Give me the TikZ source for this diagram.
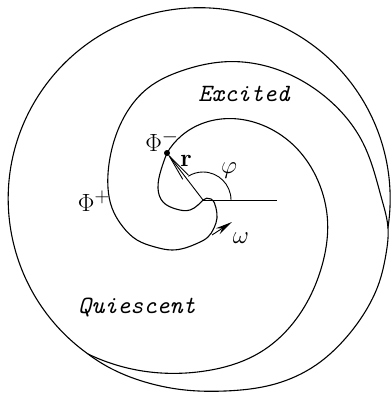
\documentclass[tikz,border=0pt]{standalone}
\usetikzlibrary{arrows.meta, hobby}

\begin{document}
\begin{tikzpicture}[
    x=1pt, y=-1pt, % Pixel-Koordinaten
    use Hobby shortcut,
    wave/.style={line width=1.1pt, line join=round}, % Style for wave fronts
    thinline/.style={line width=0.9pt}, % Style for helper lines
    lab/.style={font=\Huge, inner sep=0pt}, % Style for symbols
    region/.style={font=\Huge\ttfamily\itshape, inner sep=0pt}, % Style for regions
  ]
  \useasboundingbox (0,0) rectangle (391,393);

  % Punkte
  \coordinate (tip) at (167,153);
  \coordinate (O) at (203,200);
  \coordinate (C) at (199,199);
  \coordinate (mA) at (88,354);
  \coordinate (mB) at (388,228);

  % Front (Phi^-)
  \draw[wave] (tip) .. (181.6,135.6) .. (205,122.5) .. (234.6,118.7)
    .. (266.4,126.8) .. (295.9,147.5) .. (317.7,180.1) .. (327.6,221.6)
    .. (321.5,267.3) .. (300.2,313.4) .. (260.4,352.2) .. (205,371)
    .. (142.6,371) .. (mA);

  % Rueckfront (Phi^+)
  \draw[wave] (tip) .. (161,170) .. (158,188) .. (163,202) .. (176,209)
    .. (190,210) .. (198,205) .. (O);
  \draw[wave] (O) .. (211,199) .. (216,208) .. (217,218) .. (214,228)
    .. (208,237) .. (198,243) .. (185,248) .. (172,250) .. (155,247)
    .. (137,240) .. (123,227) .. (112,208) .. (108,188) .. (109,164)
    .. (115,138) .. (127,112) .. (148,88) .. (182,70.7) .. (229.4,61.6)
    .. (279.8,70.4) .. (326.6,97.9) .. (362.8,142.6) .. (382,200) .. (mB)
    .. (386,254) .. (379,283) .. (365,312) .. (344,340) .. (316,365)
    .. (275,384) .. (225,391) .. (185,390) .. (145,382) .. (112,369) .. (mA);

  % Rand
  \draw[wave] (mA) arc[start angle=125.6, end angle=368.7, radius=191];

  % Spitze, r und Winkel
  \fill (tip) circle (3);
  \draw[thinline, -{Straight Barb[length=27pt, width=7pt]}] (O) -- (tip);
  \draw[thinline] (O) -- (277,200);
  \draw[thinline] (O) ++(28,0) arc[start angle=0, end angle=-122, radius=28];
  \draw[thinline, -{Stealth[length=17pt, width=7pt]}] (212,235) -- (232,222);

  % Beschriftung
  \node[lab] (phim) at (162,141) {$\Phi^-$};
  \node[lab] (phip) at (94,201) {$\Phi^+$};
  \node[lab] (rlab) at (186,161) {\textbf{r}};
  \node[lab] (philab) at (229,171) {$\varphi$};
  \node[lab] (omlab) at (241,238) {$\omega$};
  \node[region] (exc) at (244,94) {Excited};
  \node[region] (qui) at (137,307) {Quiescent};
\end{tikzpicture}
\end{document}
